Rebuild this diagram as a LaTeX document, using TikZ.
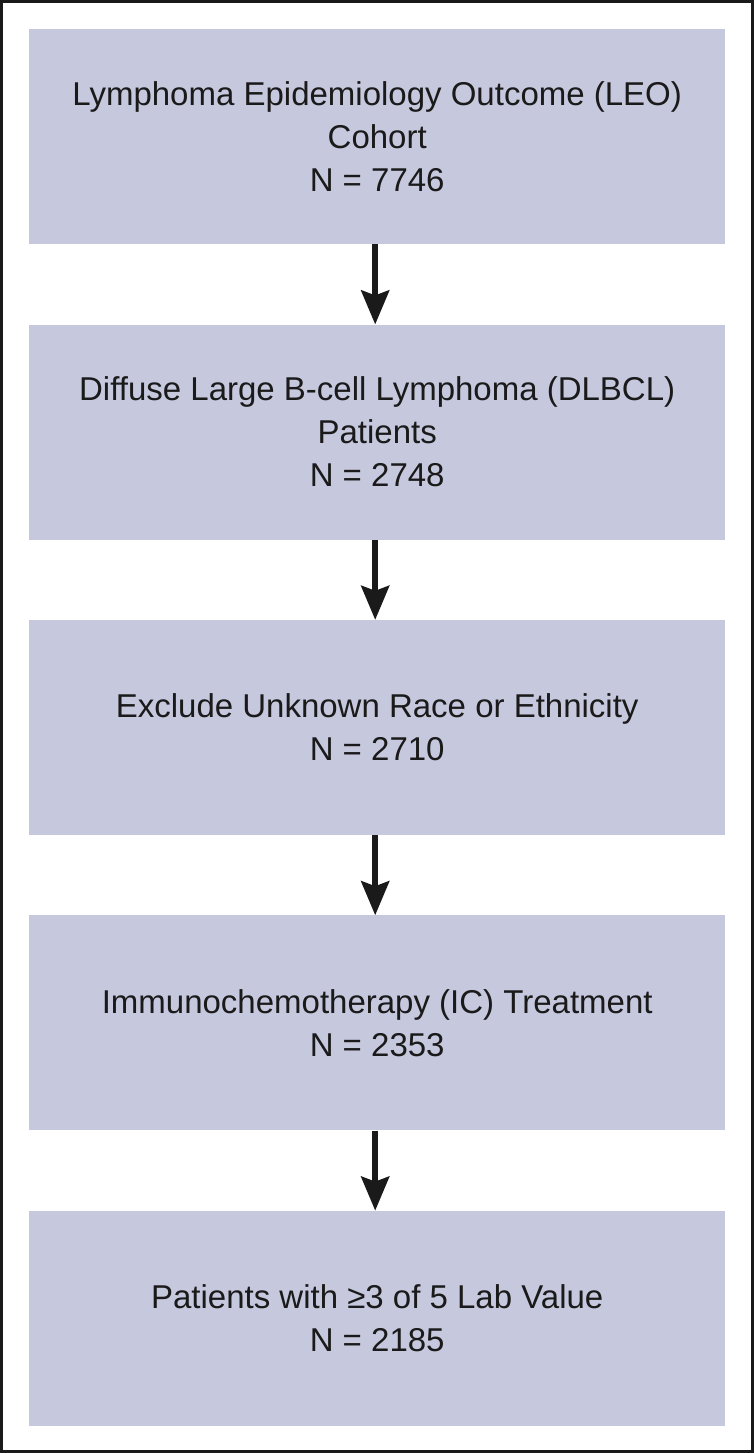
\documentclass[tikz,border=0pt]{standalone}
\usepackage{fontspec}
\setmainfont{Liberation Sans}
\usetikzlibrary{positioning,arrows.meta}
\definecolor{boxfill}{RGB}{198,200,222}
\definecolor{ink}{RGB}{26,26,26}
\tikzset{font={\fontsize{33pt}{43pt}\selectfont}}
\tikzset{stage/.style={fill=boxfill, text=ink, align=center, inner sep=0pt,
		minimum width=696pt, minimum height=215pt},
	flow/.style={ink, line width=5.5pt, -{Stealth[length=34pt, width=28pt, inset=5pt]}}}

\begin{document}
\begin{tikzpicture}[x=1pt, y=-1pt, node distance=80pt]
		%Frame
		\useasboundingbox (0,0) rectangle (754,1453);
		\draw[line width=2.6pt, ink] (1.3,1.3) rectangle (752.7,1451.7);
		%Boxes
		\node[stage, anchor=north west] (leo) at (29,29) {Lymphoma Epidemiology Outcome (LEO)\\Cohort\\N = 7746};
		\node[stage, below=of leo] (dlbcl) {Diffuse Large B-cell Lymphoma (DLBCL)\\Patients\\N = 2748};
		\node[stage, below=of dlbcl] (race) {Exclude Unknown Race or Ethnicity\\N = 2710};
		\node[stage, below=of race] (ic) {Immunochemotherapy (IC) Treatment\\N = 2353};
		\node[stage, below=of ic] (lab) {Patients with ≥3 of 5 Lab Value\\N = 2185};
		%Arrows
		\foreach \a/\b in {leo/dlbcl, dlbcl/race, race/ic, ic/lab}
		\draw[flow] ([xshift=-2pt]\a.south) -- ([xshift=-2pt]\b.north);
\end{tikzpicture}
\end{document}
